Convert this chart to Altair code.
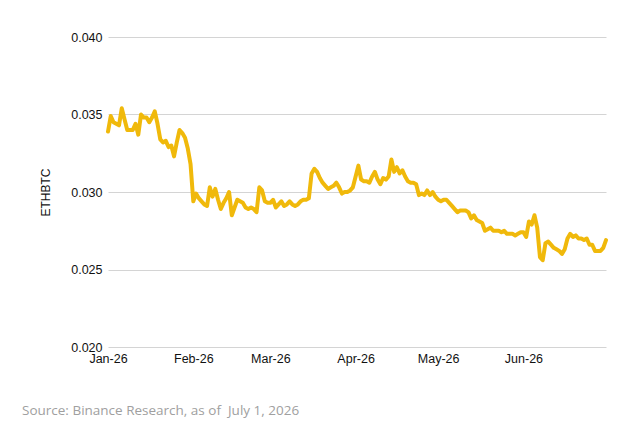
import altair as alt
import pandas as pd

start_date = "2026-01-01"
ethbtc = [
    0.0339, 0.0349, 0.0345, 0.0344, 0.0343, 0.0354, 0.0347, 0.0340, 0.0340, 0.0340,
    0.0344, 0.0337, 0.0350, 0.0348, 0.0348, 0.0345, 0.0348, 0.0352, 0.0344, 0.0334,
    0.0332, 0.0333, 0.0329, 0.0330, 0.0323, 0.0332, 0.0340, 0.0338, 0.0335, 0.0328,
    0.0318, 0.0294, 0.0299, 0.0296, 0.0294, 0.0292, 0.0291, 0.0303, 0.0297, 0.0302,
    0.0295, 0.0289, 0.0293, 0.0296, 0.0300, 0.0285, 0.0290, 0.0295, 0.0294, 0.0293,
    0.0290, 0.0289, 0.0290, 0.0289, 0.0287, 0.0303, 0.0301, 0.0294, 0.0293, 0.0293,
    0.0295, 0.0290, 0.0292, 0.0294, 0.0291, 0.0292, 0.0294, 0.0292, 0.0291, 0.0292,
    0.0294, 0.0295, 0.0295, 0.0296, 0.0312, 0.0315, 0.0313, 0.0309, 0.0306, 0.0304,
    0.0302, 0.0303, 0.0304, 0.0306, 0.0303, 0.0299, 0.0300, 0.0300, 0.0301, 0.0303,
    0.0310, 0.0317, 0.0308, 0.0307, 0.0307, 0.0306, 0.0310, 0.0313, 0.0308, 0.0305,
    0.0309, 0.0308, 0.0310, 0.0321, 0.0313, 0.0316, 0.0312, 0.0314, 0.0310, 0.0307,
    0.0306, 0.0306, 0.0305, 0.0298, 0.0299, 0.0298, 0.0301, 0.0298, 0.0300, 0.0297,
    0.0295, 0.0294, 0.0295, 0.0295, 0.0293, 0.0291, 0.0289, 0.0287, 0.0288, 0.0288,
    0.0288, 0.0287, 0.0283, 0.0285, 0.0282, 0.0281, 0.0280, 0.0275, 0.0276, 0.0277,
    0.0275, 0.0275, 0.0275, 0.0274, 0.0275, 0.0273, 0.0273, 0.0273, 0.0272, 0.0273,
    0.0274, 0.0274, 0.0271, 0.0281, 0.0279, 0.0285, 0.0277, 0.0258, 0.0256, 0.0267,
    0.0268, 0.0266, 0.0264, 0.0263, 0.0262, 0.0260, 0.0263, 0.0270, 0.0273, 0.0271,
    0.0272, 0.0270, 0.0270, 0.0269, 0.0270, 0.0266, 0.0266, 0.0262, 0.0262, 0.0262,
    0.0264, 0.0269,
]
y_ticks = [0.020, 0.025, 0.030, 0.035, 0.040]
month_ticks = [1, 2, 3, 4, 5, 6]
source_text = "Source: Binance Research, as of\u00a0 July 1, 2026"

dates = pd.date_range(start_date, periods=len(ethbtc), freq="D")
df = pd.DataFrame({
    "date": dates.strftime("%Y-%m-%dT00:00:00"),
    "value": ethbtc,
})

line = alt.Chart(df).mark_line(
    color="#F0B90B", strokeWidth=4, strokeJoin="round", strokeCap="round"
).encode(
    x=alt.X(
        "date:T",
        scale=alt.Scale(domain=[alt.DateTime(year=2026, month=1, date=1),
                                alt.DateTime(year=2026, month=7, date=1)]),
        axis=alt.Axis(
            title=None,
            format="%b-%y",
            values=[alt.DateTime(year=2026, month=m, date=1) for m in month_ticks],
            grid=False,
            ticks=False,
            domain=False,
            labelFlush=False,
            labelPadding=5,
            labelFontSize=12.5,
            labelFont="Liberation Sans",
            labelColor="#111111",
        ),
    ),
    y=alt.Y(
        "value:Q",
        scale=alt.Scale(domain=[0.020, 0.040]),
        axis=alt.Axis(
            title="ETHBTC",
            values=y_ticks,
            format=".3f",
            grid=True,
            gridColor="#d4d4d4",
            gridWidth=1,
            ticks=False,
            domain=False,
            labelPadding=6,
            labelFontSize=12.5,
            labelFont="Liberation Sans",
            labelColor="#111111",
            titleFont="Liberation Sans",
            titleFontSize=12,
            titleFontWeight="normal",
            titleColor="#111111",
            titleX=-56,
            titleY=155,
        ),
    ),
)

src = alt.Chart(pd.DataFrame({"t": [source_text]})).mark_text(
    align="left", baseline="middle", font="Open Sans", fontSize=13.5, color="#a0a0a0"
).encode(
    text="t:N",
    x=alt.value(-86),
    y=alt.value(374),
)

chart = alt.layer(line, src).properties(
    width=498,
    height=310,
    autosize=alt.AutoSizeParams(type="none"),
    padding={"left": 100, "top": 29, "right": 15, "bottom": 80},
    background="white",
).configure_view(stroke=None)

chart.save("out.html", embed_options={"renderer": "svg", "actions": False})
